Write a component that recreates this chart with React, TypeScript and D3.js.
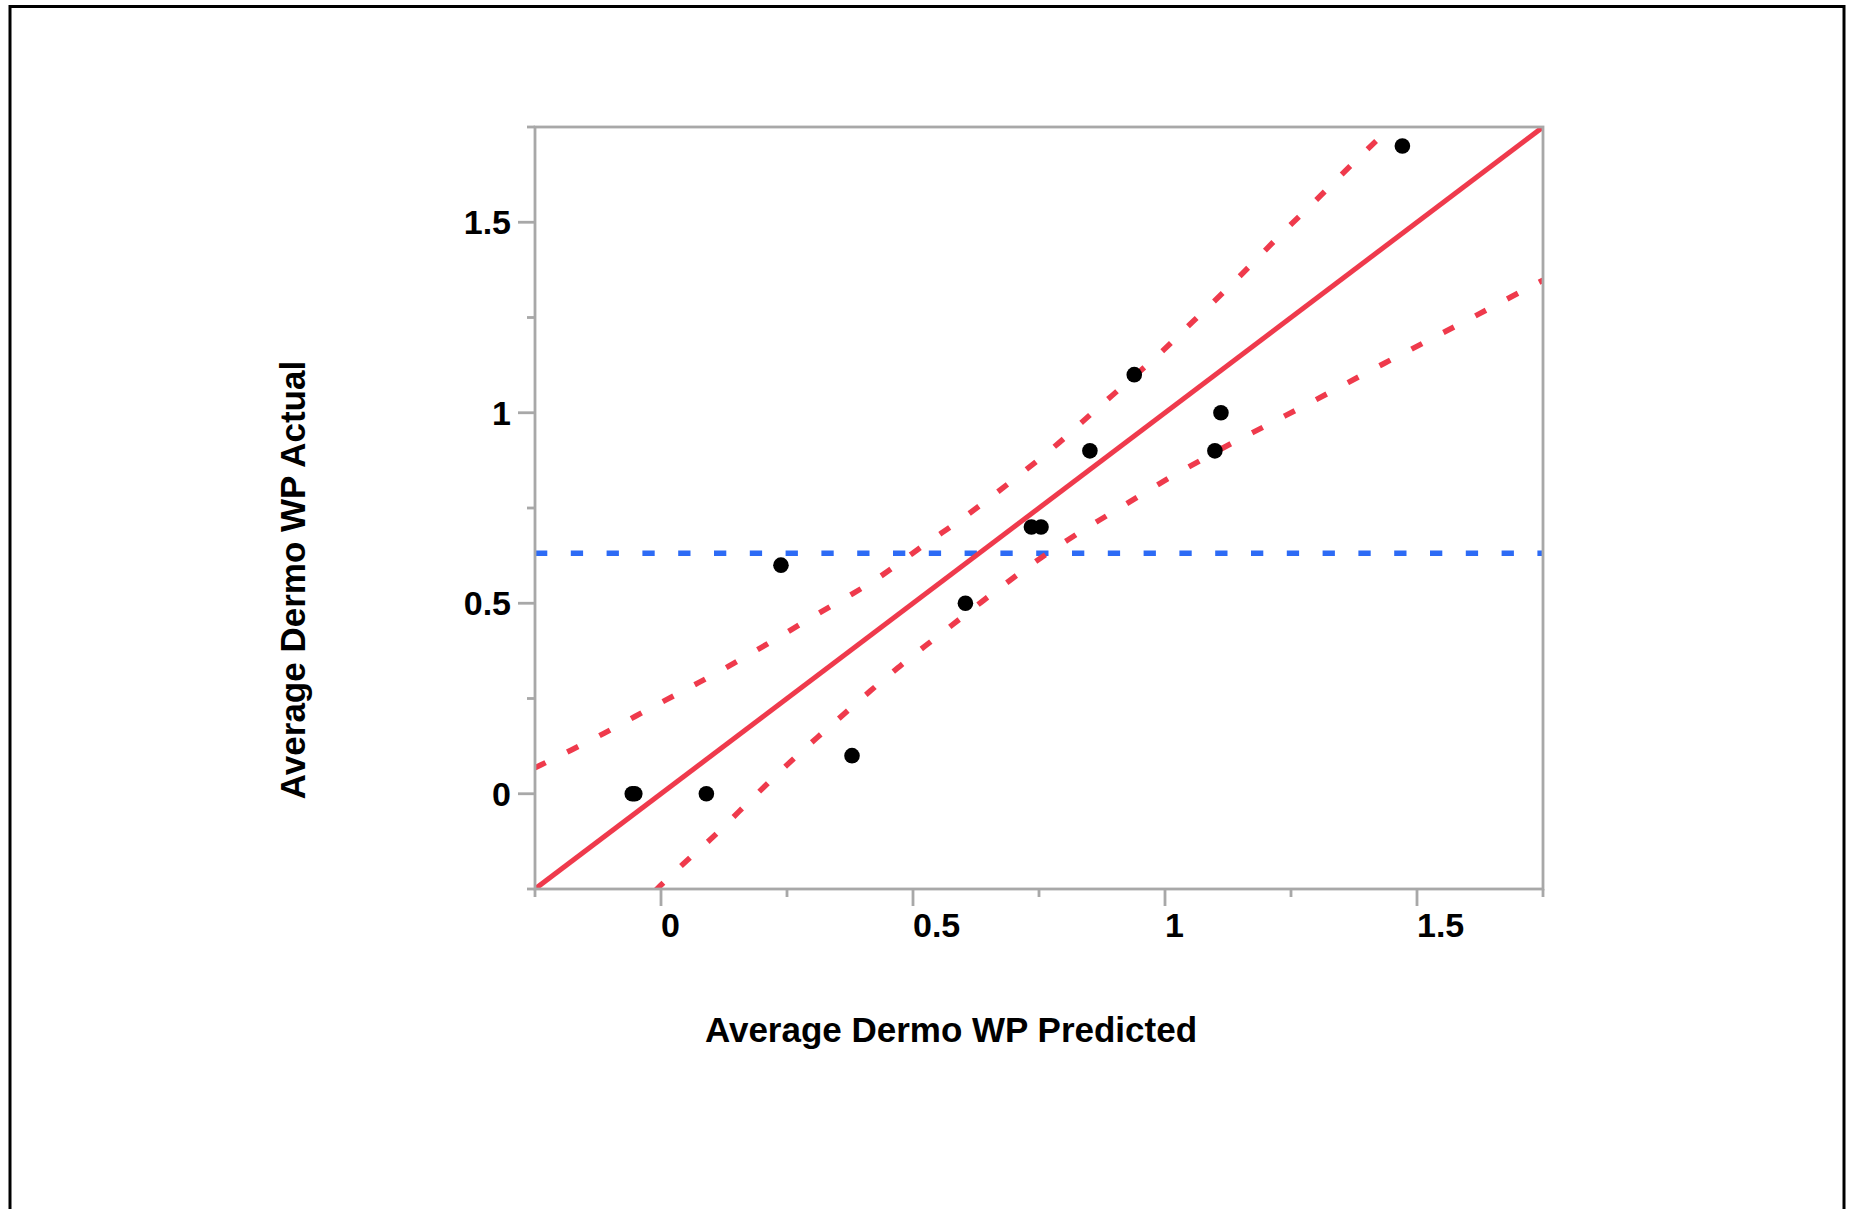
import React from 'react';
import * as d3 from 'd3';

// ---- data ----
const predicted = [-0.057, -0.052, 0.09, 0.238, 0.379, 0.604, 0.735, 0.754, 0.851, 0.939, 1.099, 1.111, 1.471];
const actual = [0, 0, 0, 0.6, 0.1, 0.5, 0.7, 0.7, 0.9, 1.1, 0.9, 1.0, 1.7];
const meanActual = 0.631;
const fitX = [-0.25, 1.75];
const fitY = [-0.25, 1.75];

const upperX = [-0.25, -0.176, -0.113, -0.052, 0.011, 0.074, 0.135, 0.198, 0.259, 0.319, 0.381, 0.44, 0.497, 0.556, 0.614, 0.777, 0.832, 0.885, 0.992, 1.042, 1.095, 1.144, 1.194, 1.243, 1.295, 1.344, 1.394, 1.441, 1.46];
const upperY = [0.068, 0.116, 0.158, 0.203, 0.247, 0.291, 0.335, 0.383, 0.431, 0.479, 0.525, 0.573, 0.63, 0.684, 0.736, 0.904, 0.972, 1.034, 1.156, 1.223, 1.289, 1.352, 1.42, 1.486, 1.551, 1.617, 1.682, 1.741, 1.765];

const lowerX = [-0.012, 0.054, 0.105, 0.154, 0.206, 0.257, 0.31, 0.363, 0.415, 0.469, 0.524, 0.581, 0.635, 0.694, 0.741, 0.807, 0.868, 0.928, 0.989, 1.052, 1.113, 1.174, 1.238, 1.301, 1.363, 1.425, 1.488, 1.548, 1.613, 1.675, 1.75];
const lowerY = [-0.255, -0.171, -0.113, -0.047, 0.02, 0.085, 0.148, 0.209, 0.27, 0.33, 0.388, 0.446, 0.503, 0.562, 0.608, 0.667, 0.717, 0.764, 0.815, 0.861, 0.907, 0.948, 0.992, 1.035, 1.079, 1.123, 1.166, 1.208, 1.252, 1.296, 1.348];

const majorTicks = [0, 0.5, 1, 1.5];
const majorLabels = ['0', '0.5', '1', '1.5'];
const minorTicks = [-0.25, 0.25, 0.75, 1.25, 1.75];
const xDomain = [-0.25, 1.75];
const yDomain = [-0.25, 1.75];

const xTitle = 'Average Dermo WP Predicted';
const yTitle = 'Average Dermo WP Actual';

const RED = '#EF3A4C';
const BLUE = '#2D6BF5';
const GRAY = '#A8A8A8';
const FONT = '"Liberation Sans", Arial, sans-serif';

export default function App() {
  const W = 1849;
  const H = 1209;
  const x = d3.scaleLinear().domain(xDomain).range([535, 1543]);
  const y = d3.scaleLinear().domain(yDomain).range([889, 127]);

  const [x0, x1] = x.range();
  const [y0, y1] = y.range();

  const line = d3
    .line<[number, number]>()
    .x((d) => x(d[0]))
    .y((d) => y(d[1]));
  const smooth = d3
    .line<[number, number]>()
    .x((d) => x(d[0]))
    .y((d) => y(d[1]))
    .curve(d3.curveBasis);

  const upper = upperX.map((v, i) => [v, upperY[i]] as [number, number]);
  const lower = lowerX.map((v, i) => [v, lowerY[i]] as [number, number]);
  const fit = fitX.map((v, i) => [v, fitY[i]] as [number, number]);
  const mean: [number, number][] = [
    [xDomain[0], meanActual],
    [xDomain[1], meanActual],
  ];

  const majorLen = 17;
  const minorLen = 8;

  return (
    <svg
      width={W}
      height={H}
      style={{ position: 'absolute', left: 0, top: 0, background: '#fff' }}
      fontFamily={FONT}
    >
      <rect x={10} y={6.5} width={1834} height={1400} fill="none" stroke="#000" strokeWidth={3} />
      <defs>
        <clipPath id="plotClip">
          <rect x={x0} y={y1} width={x1 - x0} height={y0 - y1} />
        </clipPath>
      </defs>

      <g clipPath="url(#plotClip)">
        <path d={line(mean) || ''} fill="none" stroke={BLUE} strokeWidth={5.5} strokeDasharray="12.3 23.5" />
        <path d={smooth(upper) || ''} fill="none" stroke={RED} strokeWidth={5.5} strokeDasharray="12 24" />
        <path d={smooth(lower) || ''} fill="none" stroke={RED} strokeWidth={5.5} strokeDasharray="12 24" />
        <path d={line(fit) || ''} fill="none" stroke={RED} strokeWidth={5} />
      </g>

      {/* frame */}
      <rect x={x0} y={y1} width={x1 - x0} height={y0 - y1} fill="none" stroke={GRAY} strokeWidth={2.8} />

      {/* x ticks */}
      {majorTicks.map((t) => (
        <line key={'xM' + t} x1={x(t)} x2={x(t)} y1={y0} y2={y0 + majorLen} stroke={GRAY} strokeWidth={2.8} />
      ))}
      {minorTicks.map((t) => (
        <line key={'xm' + t} x1={x(t)} x2={x(t)} y1={y0} y2={y0 + minorLen} stroke={GRAY} strokeWidth={2.8} />
      ))}
      {/* y ticks */}
      {majorTicks.map((t) => (
        <line key={'yM' + t} x1={x0 - majorLen} x2={x0} y1={y(t)} y2={y(t)} stroke={GRAY} strokeWidth={2.8} />
      ))}
      {minorTicks.map((t) => (
        <line key={'ym' + t} x1={x0 - minorLen} x2={x0} y1={y(t)} y2={y(t)} stroke={GRAY} strokeWidth={2.8} />
      ))}

      {/* tick labels */}
      {majorTicks.map((t, i) => (
        <text key={'xl' + t} x={x(t)} y={937} fontSize={34} fontWeight="bold" fill="#000" textAnchor="start">
          {majorLabels[i]}
        </text>
      ))}
      {majorTicks.map((t, i) => (
        <text
          key={'yl' + t}
          x={x0 - majorLen - 7}
          y={y(t)}
          dy="0.36em"
          fontSize={34}
          fontWeight="bold"
          fill="#000"
          textAnchor="end"
        >
          {majorLabels[i]}
        </text>
      ))}

      {/* points */}
      {predicted.map((p, i) => (
        <circle key={'pt' + i} cx={x(p)} cy={y(actual[i])} r={7.8} fill="#000" />
      ))}

      {/* axis titles */}
      <text x={951} y={1042} fontSize={35} fontWeight="bold" textAnchor="middle" fill="#000">
        {xTitle}
      </text>
      <text
        transform={`translate(305, 580) rotate(-90)`}
        fontSize={35}
        fontWeight="bold"
        textAnchor="middle"
        fill="#000"
      >
        {yTitle}
      </text>
    </svg>
  );
}
